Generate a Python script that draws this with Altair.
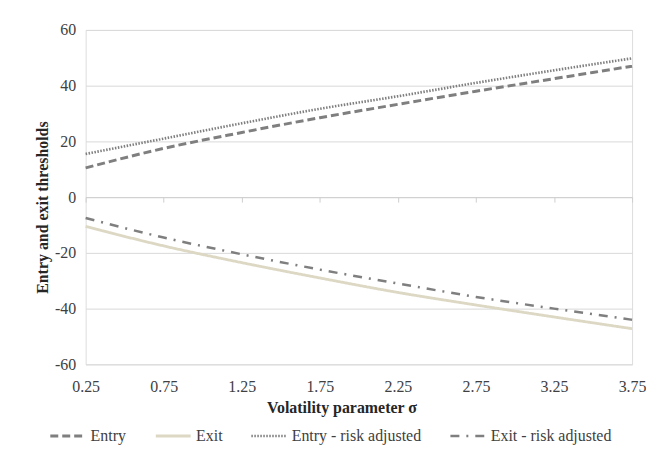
import altair as alt
import pandas as pd

sigma = [0.25, 0.75, 1.25, 1.75, 2.25, 2.75, 3.25, 3.75]
entry = [10.5, 17.5, 23.2, 28.5, 33.3, 38.0, 42.5, 47.0]
exit_ = [-10.5, -17.5, -23.5, -29.0, -34.2, -38.7, -43.0, -47.2]
entry_ra = [15.5, 21.0, 26.5, 31.7, 36.2, 41.0, 45.5, 49.8]
exit_ra = [-7.5, -14.5, -20.5, -26.0, -31.0, -35.8, -40.0, -44.0]

series_names = ["Entry", "Exit", "Entry - risk adjusted", "Exit - risk adjusted"]
series_vals = [entry, exit_, entry_ra, exit_ra]

rows = []
for name, vals in zip(series_names, series_vals):
    for s, v in zip(sigma, vals):
        rows.append({"sigma": s, "value": v, "series": name})
df = pd.DataFrame(rows)

FONT = "Liberation Serif"
FS = 16
xscale = alt.Scale(domain=[0.25, 3.75], nice=False, zero=False)
yscale = alt.Scale(domain=[-60, 60], nice=False)
yaxis = alt.Axis(values=[-60, -40, -20, 0, 20, 40, 60], title="Entry and exit thresholds",
                 labelExpr="'' + datum.value", labelFlush=False,
                 domain=False, ticks=False, grid=True, gridColor="#d9d9d9", gridWidth=1,
                 labelFont=FONT, labelFontSize=FS, labelColor="#404040",
                 labelPadding=10, titleFont=FONT, titleFontSize=FS,
                 titleFontWeight="bold", titleColor="#262626", titlePadding=4,
                 titleY=178)

legend = alt.Legend(
    title=None, orient="none", legendX=-37, legendY=389,
    direction="horizontal", columns=4,
    symbolType="stroke", symbolSize=1225, symbolStrokeWidth=2.5,
    labelFont=FONT, labelFontSize=FS, labelColor="#404040",
    columnPadding=23, labelOffset=4,
)

lines = alt.Chart(df).mark_line(interpolate="monotone").encode(
    x=alt.X("sigma:Q", scale=xscale,
            axis=alt.Axis(values=sigma, format=".2f", title="Volatility parameter σ",
                          grid=False, domain=False, ticks=False, labelFlush=False,
                          labelFont=FONT, labelFontSize=FS, labelColor="#404040",
                          labelPadding=14, titleFont=FONT, titleFontSize=FS,
                          titleFontWeight="bold", titleColor="#262626", titlePadding=5,
                          titleX=257)),
    y=alt.Y("value:Q", scale=yscale, axis=yaxis),
    color=alt.Color("series:N", scale=alt.Scale(domain=series_names,
                    range=["#7f7f7f", "#ddd8c4", "#7f7f7f", "#7f7f7f"]), legend=legend),
    strokeDash=alt.StrokeDash("series:N", scale=alt.Scale(domain=series_names,
                    range=[[8, 4], [1, 0], [1.5, 1.5], [9, 7, 2, 7]]), legend=legend),
    strokeWidth=alt.StrokeWidth("series:N", scale=alt.Scale(domain=series_names,
                    range=[3, 2.5, 1.5, 3]), legend=legend),
)

zero_df = pd.DataFrame({"sigma": sigma, "value": [0] * len(sigma)})
zero_axis = alt.Chart(zero_df).mark_line(opacity=0).encode(
    x=alt.X("sigma:Q", scale=xscale,
            axis=alt.Axis(values=sigma, orient="bottom", offset=-168, labels=False,
                          title=None, grid=False, domain=True, ticks=True,
                          domainColor="#cfcfcf", tickColor="#cfcfcf", tickSize=5,
                          domainWidth=1, tickWidth=1)),
    y=alt.Y("value:Q", scale=yscale, axis=yaxis),
)

chart = alt.layer(lines, zero_axis).resolve_scale(x="independent").resolve_axis(
    x="independent"
).properties(
    width=549, height=336,
    padding={"left": 26, "top": 13, "right": 0, "bottom": 0},
).configure_view(strokeWidth=0).configure_axisY(domain=False).configure(background="white")

chart.save("out.html", embed_options={"renderer": "svg", "actions": False})
